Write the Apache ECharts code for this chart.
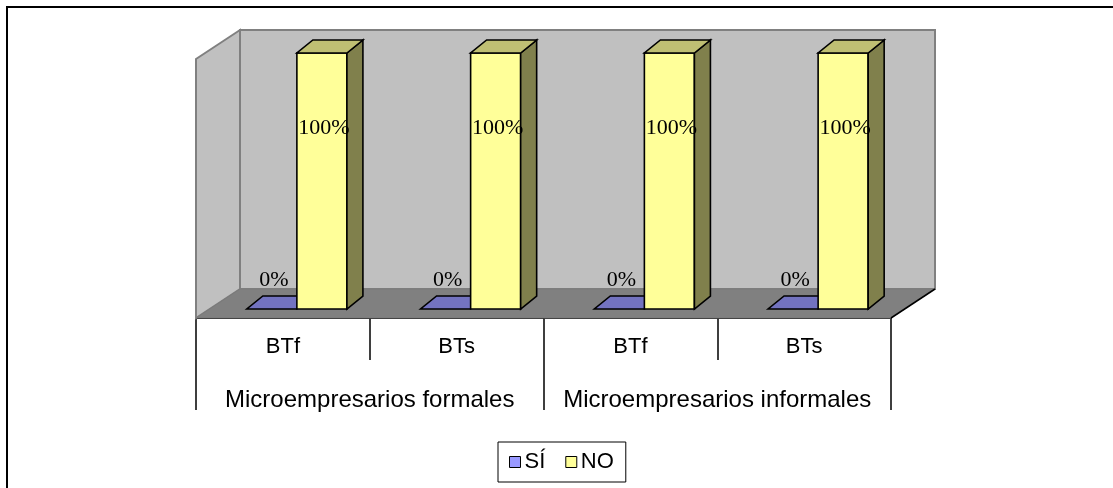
<!DOCTYPE html>
<html>
<head>
<meta charset="utf-8">
<script src="https://cdn.jsdelivr.net/npm/echarts@6/dist/echarts.min.js"></script>
<style>
  html, body { margin: 0; padding: 0; background: #fff; }
  #chart { width: 1113px; height: 488px; }
</style>
</head>
<body>
<div id="chart"></div>
<script>
// Categories (front row of the table) and their groups (second row)
const categories = ['BTf', 'BTs', 'BTf', 'BTs'];
const groups = ['Microempresarios formales', 'Microempresarios informales'];
const seriesNames = ['SÍ', 'NO'];
const siValues = [0, 0, 0, 0];
const noValues = [100, 100, 100, 100];

// Colours: front face, top face, side face
const palette = {
  'SÍ': { front: '#9999ff', top: '#7373c0', side: '#4d4d80' },
  'NO': { front: '#ffff99', top: '#bfbf73', side: '#80804c' }
};

// Oblique projection offsets (pixels)
const BAR_DX = 16, BAR_DY = -13;     // depth of a column
const BACK_DX = 30, BACK_DY = -20;   // column plane -> back wall
const FRONT_DX = -14, FRONT_DY = 9;  // column plane -> front edge of floor
const BAR_FRAC = 0.288;              // column width as a share of a category band

const GRID = { left: 210, right: 208, top: 53, bottom: 179 };

function pct(v) { return Math.round(v) + '%'; }

// Walls and floor of the 3D box
function frameRender(params, api) {
  const cs = params.coordSys;
  const y0 = cs.y + cs.height;
  const wallTop = cs.y + BACK_DY - 3;
  const bl = cs.x + BACK_DX, br = cs.x + cs.width + BACK_DX, bb = y0 + BACK_DY;
  const fl = cs.x + FRONT_DX, fr = cs.x + cs.width + FRONT_DX, fb = y0 + FRONT_DY;
  const depthY = BACK_DY - FRONT_DY;
  return {
    type: 'group',
    children: [
      { type: 'polygon', shape: { points: [[fl, wallTop - depthY], [bl, wallTop], [bl, bb], [fl, fb]] },
        style: { fill: '#c0c0c0', stroke: '#808080', lineWidth: 2 } },
      { type: 'rect', shape: { x: bl, y: wallTop, width: br - bl, height: bb - wallTop },
        style: { fill: '#c0c0c0', stroke: '#808080', lineWidth: 2 } },
      { type: 'polygon', shape: { points: [[fl, fb], [bl, bb], [br, bb], [fr, fb]] },
        style: { fill: '#808080', stroke: '#7a7a7a', lineWidth: 1 } },
      { type: 'line', shape: { x1: fr, y1: fb, x2: br, y2: bb },
        style: { stroke: '#000', lineWidth: 1.5 } }
    ]
  };
}

// 3D column: front, top and right side faces plus value label
function barRender(slot, name) {
  const col = palette[name];
  return function (params, api) {
    const cat = api.value(0);
    const val = api.value(1);
    const band = api.size([1, 0])[0];
    const w = band * BAR_FRAC;
    const base = api.coord([cat, 0]);
    const topPt = api.coord([cat, val]);
    const x0 = base[0] - w + slot * w;
    const x1 = x0 + w;
    const yb = base[1], yt = topPt[1];
    const edge = { stroke: '#000', lineWidth: 1.6, lineJoin: 'miter' };
    const children = [];
    if (yb - yt > 0.5) {
      children.push({ type: 'rect', shape: { x: x0, y: yt, width: w, height: yb - yt },
        style: Object.assign({ fill: col.front }, edge) });
      children.push({ type: 'polygon',
        shape: { points: [[x1, yt], [x1 + BAR_DX, yt + BAR_DY], [x1 + BAR_DX, yb + BAR_DY], [x1, yb]] },
        style: Object.assign({ fill: col.side }, edge) });
    }
    children.push({ type: 'polygon',
      shape: { points: [[x0, yt], [x1, yt], [x1 + BAR_DX, yt + BAR_DY], [x0 + BAR_DX, yt + BAR_DY]] },
      style: Object.assign({ fill: col.top }, edge) });
    children.push({ type: 'text', x: (x0 + x1) / 2 + 2, y: yb - 29 - 0.592 * (yb - yt),
      style: { text: pct(val), fill: '#000', font: '22px "Liberation Serif", "Times New Roman", serif',
        align: 'center', verticalAlign: 'middle' } });
    return { type: 'group', children: children };
  };
}

function toData(values) { return values.map((v, i) => [i, v]); }

const chart = echarts.init(document.getElementById('chart'), null, { renderer: 'canvas' });

chart.setOption({
  animation: false,
  backgroundColor: '#fff',
  textStyle: { fontFamily: '"Liberation Sans", Arial, sans-serif' },
  graphic: [{
    type: 'polyline', z: 100,
    shape: { points: [[7, 488], [7, 7], [1113, 7]] },
    style: { stroke: '#000', lineWidth: 2, fill: null }
  }],
  legend: {
    left: 498, top: 442,
    data: seriesNames,
    icon: 'rect',
    itemWidth: 11, itemHeight: 11, itemGap: 20,
    padding: [9, 12, 9, 11],
    borderColor: '#000', borderWidth: 1,
    selectedMode: false,
    itemStyle: { borderColor: '#000', borderWidth: 1 },
    textStyle: { fontSize: 22, color: '#000', padding: [0, 0, 0, -1] }
  },
  grid: [
    Object.assign({}, GRID),
    { left: GRID.left + FRONT_DX, right: GRID.right - FRONT_DX, top: 300, bottom: GRID.bottom - FRONT_DY }
  ],
  xAxis: [
    { type: 'category', gridIndex: 0, data: categories, show: false },
    { type: 'category', gridIndex: 1, data: categories, position: 'bottom',
      axisLine: { lineStyle: { color: '#000', width: 1.5 } },
      axisTick: { show: true, interval: 0, length: 42, lineStyle: { color: '#000', width: 1.5 } },
      axisLabel: { interval: 0, fontSize: 22, color: '#000', margin: 18 } },
    { type: 'category', gridIndex: 1, data: groups, position: 'bottom',
      axisLine: { lineStyle: { color: '#000', width: 1.5 } },
      axisTick: { show: true, interval: 0, length: 92, lineStyle: { color: '#000', width: 1.5 } },
      axisLabel: { interval: 0, hideOverlap: false, fontSize: 24, color: '#000', margin: 70 } }
  ],
  yAxis: [
    { type: 'value', gridIndex: 0, min: 0, max: 100, show: false },
    { type: 'value', gridIndex: 1, show: false }
  ],
  series: [
    { type: 'custom', name: '_frame', xAxisIndex: 0, yAxisIndex: 0, clip: false, silent: true,
      renderItem: frameRender, data: [[0, 0]] },
    { type: 'custom', name: seriesNames[0], xAxisIndex: 0, yAxisIndex: 0, clip: false,
      itemStyle: { color: palette['SÍ'].front },
      renderItem: barRender(0, 'SÍ'), encode: { x: 0, y: 1 }, data: toData(siValues) },
    { type: 'custom', name: seriesNames[1], xAxisIndex: 0, yAxisIndex: 0, clip: false,
      itemStyle: { color: palette['NO'].front },
      renderItem: barRender(1, 'NO'), encode: { x: 0, y: 1 }, data: toData(noValues) }
  ]
});
</script>
</body>
</html>
